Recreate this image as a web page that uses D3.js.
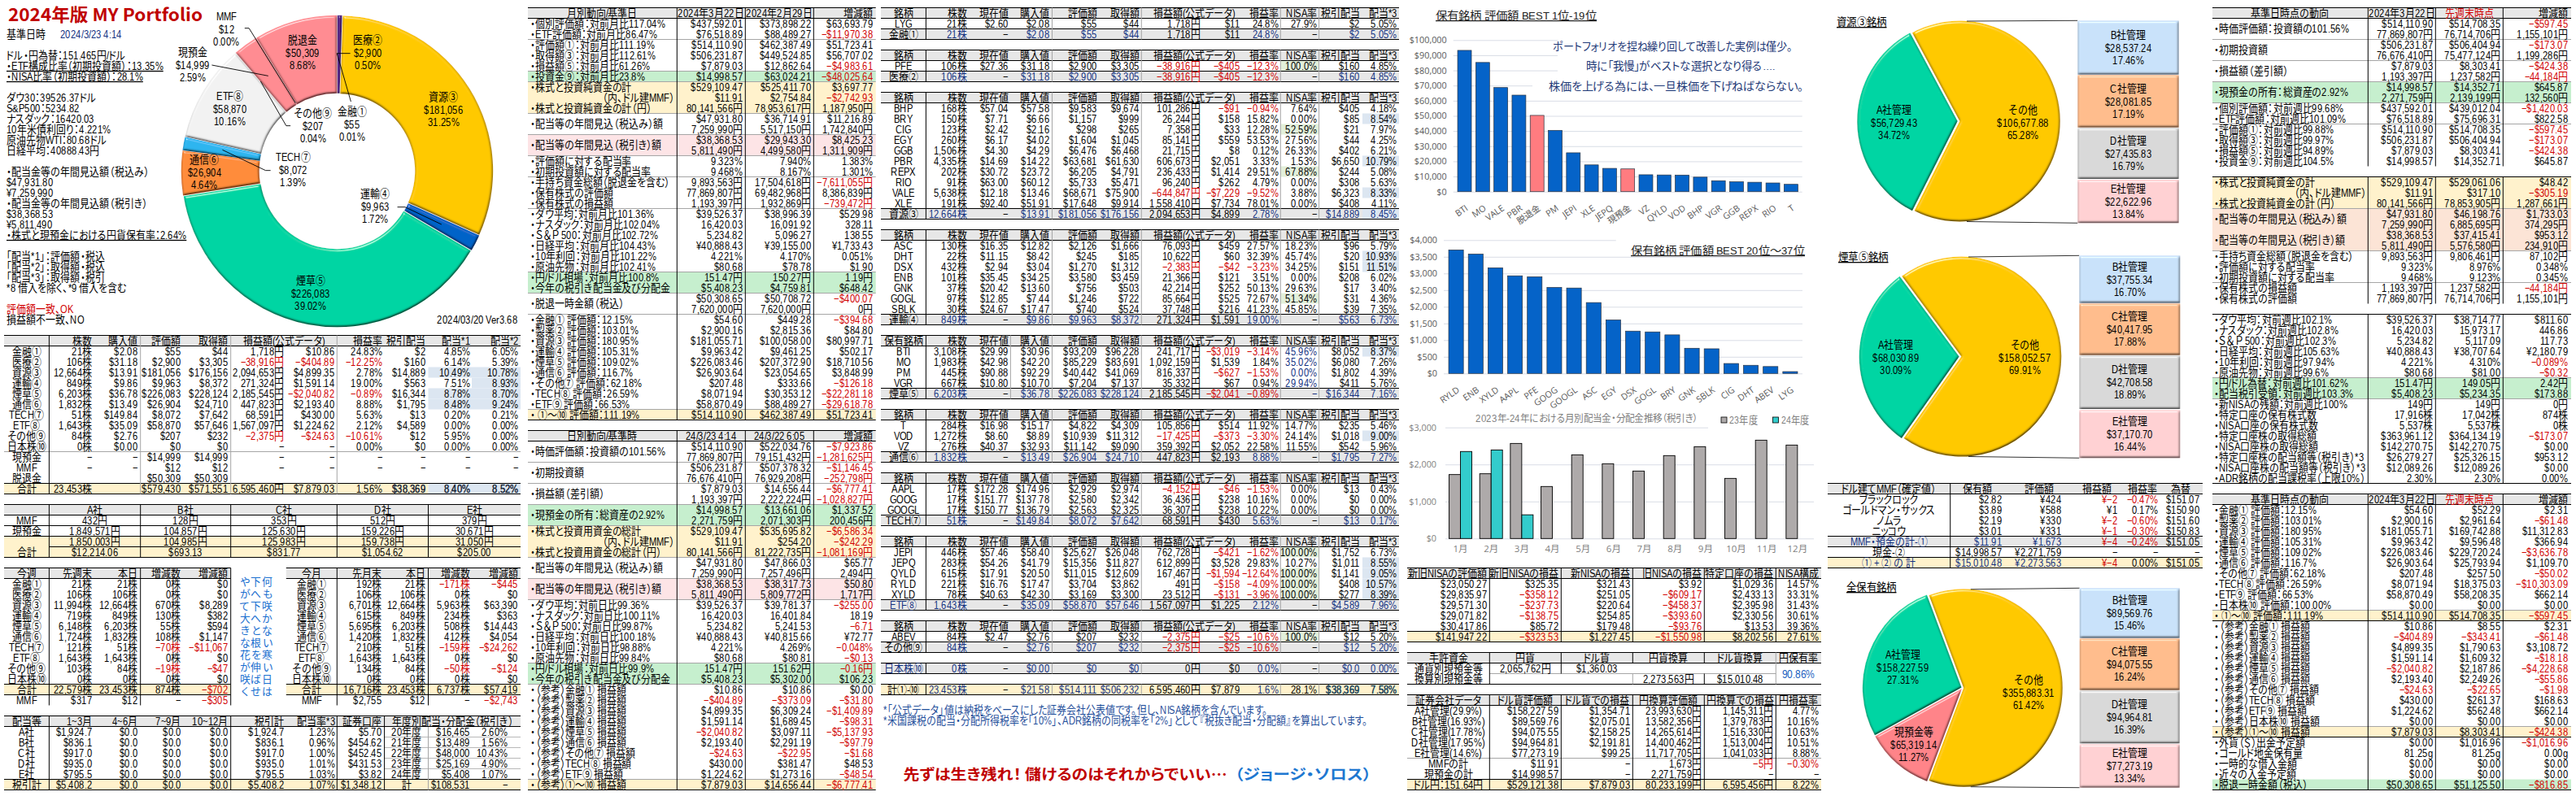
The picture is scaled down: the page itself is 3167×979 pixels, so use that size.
<!DOCTYPE html>
<html lang="ja"><head><meta charset="utf-8">
<script src="https://cdn.jsdelivr.net/npm/d3@7"></script>
<style>
@font-face{font-family:LA;src:local("Liberation Sans"),local("LiberationSans");}
@font-face{font-family:CJ;src:local("Noto Sans CJK JP"),local("Noto Sans CJK JP Regular"),local("NotoSansCJKjp-Regular");size-adjust:107%;}
html,body{margin:0;padding:0;background:#fff;}
svg{display:block;}
text{font-family:LA,CJ,"Liberation Sans","Noto Sans CJK JP",sans-serif;font-feature-settings:"palt";white-space:pre;}
.b{font-family:"Noto Sans CJK JP",sans-serif;font-weight:700;}
.a{font-family:"Open Sans","Noto Sans CJK JP",sans-serif;}
</style></head><body>
<svg id="c" width="3167" height="979" viewBox="0 0 3167 979"></svg>
<script>
// ===== DATA =====
const donutNames=["金融①","医療②","資源③","運輸④","煙草⑤","通信⑥","TECH⑦","ETF⑧","その他⑨","現預金","MMF","脱退金"];
const donutValues=[55,2900,181056,9963,226083,26904,8072,58870,207,14999,12,50309];
const donutPcts=["0.01%","0.50%","31.25%","1.72%","39.02%","4.64%","1.39%","10.16%","0.04%","2.59%","0.00%","8.68%"];

const infoLines=["ドル・円為替：151.465円/ドル","・ETF構成比率（初期投資額）：13.35%","・NISA比率（初期投資額）：28.1%"];
const marketLines=["ダウ30：39526.37ドル","S&P500：5234.82","ナスダック：16420.03","10年米債利回り：4.221%","原油先物WTI：80.68ドル","日経平均：40888.43円"];
const divLines=["・配当金等の年間見込額（税込み）","$47,931.80","¥7,259,990","・配当金等の年間見込額（税引き）","$38,368.53","¥5,811,490","・株式と現預金における円貨保有率：2.64%"];
const noteLines=["「配当*1」：評価額・税込","「配当*2」：取得額・税込","「配当*3」：取得額・税引","*8 借入を除く、*9 借入を含む"];

const sumHead=["","株数","購入値","評価額","取得額","損益額(公式データ)","損益率","税引配当","配当*1","配当*2"];
const sumRows=[
"金融①|21株|$2.08|$55|$44|1,718円|$10.86|24.83%|$2|4.85%|6.05%",
"医療②|106株|$31.18|$2,900|$3,305|-38,916円|-$404.89|-12.25%|$160|6.14%|5.39%",
"資源③|12,664株|$13.91|$181,056|$176,156|2,094,653円|$4,899.35|2.78%|$14,889|10.49%|10.78%",
"運輸④|849株|$9.86|$9,963|$8,372|271,324円|$1,591.14|19.00%|$563|7.51%|8.93%",
"煙草⑤|6,203株|$36.78|$226,083|$228,124|2,185,545円|-$2,040.82|-0.89%|$16,344|8.78%|8.70%",
"通信⑥|1,832株|$13.49|$26,904|$24,710|447,823円|$2,193.40|8.88%|$1,795|8.48%|9.24%",
"TECH⑦|51株|$149.84|$8,072|$7,642|68,591円|$430.00|5.63%|$13|0.20%|0.21%",
"ETF⑧|1,643株|$35.09|$58,870|$57,646|1,567,097円|$1,224.62|2.12%|$4,589|0.00%|0.00%",
"その他⑨|84株|$2.76|$207|$232|-2,375円|-$24.63|-10.61%|$12|5.95%|0.00%",
"日本株⑩|0株|$0.00|$0|$0|-|-|0.00%|$0|0.00%|0.00%",
"現預金|-|-|$14,999|$14,999|-|-|-|-|-|-",
"MMF|-|-|$12|$12|-|-|-|-|-|-",
"脱退金|||$50,309|$50,309||||||",
"合計|23,453株||$579,430|$571,551|6,595,460円|$7,879.03|1.56%|$38,369|8.40%|8.52%"];

const brokerHead=["","A社","B社","C社","D社","E社"];
const brokerRows=["MMF|432円|128円|353円|512円|379円","現預金|1,849,571円|104,857円|125,630円|159,226円|30,671円","|1,850,003円|104,985円|125,983円|159,738円|31,050円","合計|$12,214.06|$693.13|$831.77|$1,054.62|$205.00"];

const weekHead=["今週","先週末","本日","増減数","増減額"];
const weekRows=[
"金融①|21株|21株|0株|$0","医療②|106株|106株|0株|$0","資源③|11,994株|12,664株|670株|$8,289","運輸④|719株|849株|130株|$382",
"煙草⑤|6,148株|6,203株|55株|$594","通信⑥|1,724株|1,832株|108株|$1,147","TECH⑦|121株|51株|-70株|-$11,067","ETF⑧|1,643株|1,643株|0株|$0",
"その他⑨|103株|84株|-19株|-$47","日本株⑩|0株|0株|0株|$0","合計|22,579株|23,453株|874株|-$702","MMF|$317|$12|-|-$305"];
const monthHead=["今月","先月末","本日","増減数","増減額"];
const monthRows=[
"金融①|192株|21株|-171株|-$445","医療②|106株|106株|0株|$0","資源③|6,701株|12,664株|5,963株|$63,390","運輸④|615株|849株|234株|$363",
"煙草⑤|5,695株|6,203株|508株|$14,443","通信⑥|1,420株|1,832株|412株|$4,054","TECH⑦|210株|51株|-159株|-$24,262","ETF⑧|1,643株|1,643株|0株|$0",
"その他⑨|134株|84株|-50株|-$124","日本株⑩|0株|0株|0株|$0","合計|16,716株|23,453株|6,737株|$57,419","MMF|$2,755|$12|-|-$2,743"];
const poemColumns=["何も咲かない寒い日は","下へ下へと根を伸ばせ","やがて大きな花が咲く"];

const divHead=["配当等","1~3月","4~6月","7~9月","10~12月","税引計","配当率*3","証券口座"];
const divRows=[
"A社|$1,924.7|$0.0|$0.0|$0.0|$1,924.7|1.23%|$5.70","B社|$836.1|$0.0|$0.0|$0.0|$836.1|0.96%|$454.62","C社|$917.0|$0.0|$0.0|$0.0|$917.0|1.00%|$452.45",
"D社|$935.0|$0.0|$0.0|$0.0|$935.0|1.01%|$431.53","E社|$795.5|$0.0|$0.0|$0.0|$795.5|1.03%|$3.82","税引計|$5,408.2|$0.0|$0.0|$0.0|$5,408.2|1.07%|$1,348.12"];
const yearDivTitle="年度別配当・分配金（税引き）";
const yearDivRows=["20年度|$16,465|2.60%","21年度|$13,489|1.56%","22年度|$48,000|10.43%","23年度|$25,169|4.90%","24年度|$5,408|1.07%","計|$108,531|-"];

const monthlyHead=["月別動向/基準日","2024年3月22日","2024年2月29日","増減額"];
const monthlyRows=[
"・個別評価額：対前月比117.04%|$437,592.01|$373,898.22|$63,693.79","・ETF評価額：対前月比86.47%|$76,518.89|$88,489.27|-$11,970.38",
"・評価額①：対前月比111.19%|$514,110.90|$462,387.49|$51,723.41","・取得額③：対前月比112.61%|$506,231.87|$449,524.85|$56,707.02",
"・損益額⑤：対前月比61.26%|$7,879.03|$12,862.64|-$4,983.61","・投資金⑨：対前月比23.8%|$14,998.57|$63,024.21|-$48,025.64",
"・株式と投資純資金の計|$529,109.47|$525,411.70|$3,697.77","（内、ドル建MMF）|$11.91|$2,754.84|-$2,742.93","・株式と投資純資金の計（円）|80,141,566円|78,953,617円|1,187,950円",
"・配当等の年間見込（税込み）額|$47,931.80|$36,714.91|$11,216.89","|7,259,990円|5,517,150円|1,742,840円",
"・配当等の年間見込（税引き）額|$38,368.53|$29,943.30|$8,425.23","|5,811,490円|4,499,580円|1,311,909円",
"・評価額に対する配当率|9.323%|7.940%|1.383%","・初期投資額に対する配当率|9.468%|8.167%|1.301%",
"・手持ち資金総額（脱退金を含む）|9,893,563円|17,504,618円|-7,611,055円","・保有株式の評価額|77,869,807円|69,482,968円|8,386,839円","・保有株式の損益額|1,193,397円|1,932,869円|-739,472円",
"・ダウ平均：対前月比101.36%|$39,526.37|$38,996.39|$529.98","・ナスダック：対前月比102.04%|16,420.03|16,091.92|328.11","・Ｓ＆Ｐ 500：対前月比102.72%|5,234.82|5,096.27|138.55",
"・日経平均：対前月比104.43%|¥40,888.43|¥39,155.00|¥1,733.43","・10年利回：対前月比101.22%|4.221%|4.170%|0.051%","・原油先物：対前月比102.41%|$80.68|$78.78|$1.90",
"・円/ドル相場：対前月比100.8%|151.47円|150.27円|1.19円","・今年の税引き配当金及び分配金|$5,408.23|$4,759.81|$648.42",
"・脱退一時金額（税込）|$50,308.65|$50,708.72|-$400.07","|7,620,000円|7,620,000円|0円",
"・金融① 評価額：12.15%|$54.60|$449.28|-$394.68","・製薬② 評価額：103.01%|$2,900.16|$2,815.36|$84.80","・資源③ 評価額：180.95%|$181,055.71|$100,058.00|$80,997.71",
"・運輸④ 評価額：105.31%|$9,963.42|$9,461.25|$502.17","・煙草⑤ 評価額：109.02%|$226,083.46|$207,372.90|$18,710.56","・通信⑥ 評価額：116.7%|$26,903.64|$23,054.65|$3,848.99",
"・その他⑦ 評価額：62.18%|$207.48|$333.66|-$126.18","・TECH⑧ 評価額：26.59%|$8,071.94|$30,353.12|-$22,281.18","・ETF⑨ 評価額：66.53%|$58,870.49|$88,489.27|-$29,618.78",
"・ ①～⑩ 評価額：111.19%|$514,110.90|$462,387.49|$51,723.41"];

const dailyHead=["日別動向/基準時","24/3/23 4:14","24/3/22 6:05","増減額"];
const dailyRows=[
"・時価評価額：投資額の101.56%|$514,110.90|$522,034.76|-$7,923.86","|77,869,807円|79,151,432円|-1,281,625円",
"・初期投資額|$506,231.87|$507,378.32|-$1,146.45","|76,676,410円|76,929,208円|-252,798円",
"・損益額（差引額）|$7,879.03|$14,656.44|-$6,777.41","|1,193,397円|2,222,224円|-1,028,827円",
"・現預金の所有：総資産の2.92%|$14,998.57|$13,661.06|$1,337.52","|2,271,759円|2,071,303円|200,456円",
"・株式と投資用資金の総計|$529,109.47|$535,695.82|-$6,586.34","（内、ドル建MMF）|$11.91|$254.20|-$242.29","・株式と投資用資金の総計（円）|80,141,566円|81,222,735円|-1,081,169円",
"・配当等の年間見込（税込み）額|$47,931.80|$47,866.03|$65.77","|7,259,990円|7,257,496円|2,494円",
"・配当等の年間見込（税引き）額|$38,368.53|$38,317.73|$50.80","|5,811,490円|5,809,772円|1,717円",
"・ダウ平均：対前日比99.36%|$39,526.37|$39,781.37|-$255.00","・ナスダック：対前日比100.11%|16,420.03|16,401.84|18.19","・Ｓ＆Ｐ 500：対前日比99.87%|5,234.82|5,241.53|-6.71",
"・日経平均：対前日比100.18%|¥40,888.43|¥40,815.66|¥72.77","・10年利回：対前日比98.88%|4.221%|4.269%|-0.048%","・原油先物：対前日比99.84%|$80.68|$80.81|-$0.13",
"・円/ドル相場：対前日比99.9%|151.47円|151.62円|-0.16円","・今年の税引き配当金及び分配金|$5,408.23|$5,302.00|$106.23",
"・（参考）金融① 損益額|$10.86|$10.86|$0.00","・（参考）製薬② 損益額|-$404.89|-$373.09|-$31.80","・（参考）資源③ 損益額|$4,899.35|$6,309.24|-$1,409.89",
"・（参考）運輸④ 損益額|$1,591.14|$1,689.45|-$98.31","・（参考）煙草⑤ 損益額|-$2,040.82|$3,097.11|-$5,137.93","・（参考）通信⑥ 損益額|$2,193.40|$2,291.19|-$97.79",
"・（参考）その他⑦ 損益額|-$24.63|-$22.95|-$1.68","・（参考）TECH⑧ 損益額|$430.00|$381.47|$48.53","・（参考）ETF⑨ 損益額|$1,224.62|$1,273.16|-$48.54",
"・（参考）①～⑩ 損益額|$7,879.03|$14,656.44|-$6,777.41"];

const stockHead=["銘柄","株数","現在値","購入値","評価額","取得額","損益額(公式データ)","損益率","NISA率","税引配当","配当*3"];
const stFinance=["LYG|21株|$2.60|$2.08|$55|$44|1,718円|$11|24.8%|27.9%|$2|5.05%","金融①|21株|-|$2.08|$55|$44|1,718円|$11|24.8%|-|$2|5.05%"];
const stHealth=["PFE|106株|$27.36|$31.18|$2,900|$3,305|-38,916円|-$405|-12.3%|100.0%|$160|4.85%","医療②|106株|-|$31.18|$2,900|$3,305|-38,916円|-$405|-12.3%|-|$160|4.85%"];
const stResource=[
"BHP|168株|$57.04|$57.58|$9,583|$9,674|101,286円|-$91|-0.94%|7.64%|$405|4.18%","BRY|150株|$7.71|$6.66|$1,157|$999|26,244円|$158|15.82%|0.00%|$85|8.54%",
"CIG|123株|$2.42|$2.16|$298|$265|7,358円|$33|12.28%|52.59%|$21|7.97%","EGY|260株|$6.17|$4.02|$1,604|$1,045|85,141円|$559|53.53%|27.56%|$44|4.25%",
"GGB|1,506株|$4.30|$4.29|$6,476|$6,468|21,715円|$8|0.12%|26.33%|$402|6.21%","PBR|4,335株|$14.69|$14.22|$63,681|$61,630|606,673円|$2,051|3.33%|1.53%|$6,650|10.79%",
"REPX|202株|$30.72|$23.72|$6,205|$4,791|236,433円|$1,414|29.51%|67.88%|$244|5.08%","RIO|91株|$63.00|$60.12|$5,733|$5,471|96,240円|$262|4.79%|0.00%|$308|5.63%",
"VALE|5,638株|$12.18|$13.46|$68,671|$75,900|-644,847円|-$7,229|-9.52%|3.88%|$6,323|8.33%","XLE|191株|$92.40|$51.91|$17,648|$9,914|1,558,410円|$7,734|78.01%|0.00%|$408|4.11%",
"資源③|12,664株|-|$13.91|$181,056|$176,156|2,094,653円|$4,899|2.78%|-|$14,889|8.45%"];
const stTransport=[
"ASC|130株|$16.35|$12.82|$2,126|$1,666|76,093円|$459|27.57%|18.23%|$96|5.79%","DHT|22株|$11.15|$8.42|$245|$185|10,622円|$60|32.39%|45.74%|$20|10.93%",
"DSX|432株|$2.94|$3.04|$1,270|$1,312|-2,383円|-$42|-3.23%|34.25%|$151|11.51%","ENB|101株|$35.45|$34.25|$3,580|$3,459|21,366円|$121|3.51%|0.00%|$208|6.02%",
"GNK|37株|$20.42|$13.60|$756|$503|42,214円|$252|50.13%|29.63%|$17|3.40%","GOGL|97株|$12.85|$7.44|$1,246|$722|85,664円|$525|72.67%|51.34%|$31|4.36%",
"SBLK|30株|$24.67|$17.47|$740|$524|37,748円|$216|41.23%|45.85%|$39|7.35%","運輸④|849株|-|$9.86|$9,963|$8,372|271,324円|$1,591|19.00%|-|$563|6.73%"];
const stTobaccoHead=["保有銘柄","株数","現在値","購入値","評価額","取得額","損益額(公式データ)","損益率","NISA率","税引配当","配当*3"];
const stTobacco=[
"BTI|3,108株|$29.99|$30.96|$93,209|$96,228|241,717円|-$3,019|-3.14%|45.96%|$8,052|8.37%","MO|1,983株|$42.98|$42.20|$85,229|$83,691|1,092,159円|$1,539|1.84%|35.02%|$6,080|7.26%",
"PM|445株|$90.88|$92.29|$40,442|$41,069|816,337円|-$627|-1.53%|0.00%|$1,802|4.39%","VGR|667株|$10.80|$10.70|$7,204|$7,137|35,332円|$67|0.94%|29.94%|$411|5.76%",
"煙草⑤|6,203株|-|$36.78|$226,083|$228,124|2,185,545円|-$2,041|-0.89%|-|$16,344|7.16%"];
const stTelecom=[
"T|284株|$16.98|$15.17|$4,822|$4,309|105,856円|$514|11.92%|14.77%|$235|5.46%","VOD|1,272株|$8.60|$8.89|$10,939|$11,312|-17,425円|-$373|-3.30%|24.14%|$1,018|9.00%",
"VZ|276株|$40.37|$32.93|$11,142|$9,090|359,392円|$2,052|22.58%|11.55%|$542|5.96%","通信⑥|1,832株|-|$13.49|$26,904|$24,710|447,823円|$2,193|8.88%|-|$1,795|7.27%"];
const stTech=[
"AAPL|17株|$172.28|$174.96|$2,929|$2,974|-4,152円|-$46|-1.53%|0.00%|$13|0.43%","GOOG|17株|$151.77|$137.78|$2,580|$2,342|36,436円|$238|10.16%|0.00%|$0|0.00%",
"GOOGL|17株|$150.77|$136.79|$2,563|$2,325|36,307円|$238|10.22%|0.00%|$0|0.00%","TECH⑦|51株|-|$149.84|$8,072|$7,642|68,591円|$430|5.63%|-|$13|0.17%"];
const stEtf=[
"JEPI|446株|$57.46|$58.40|$25,627|$26,048|762,728円|-$421|-1.62%|100.00%|$1,752|6.73%","JEPQ|283株|$54.26|$41.79|$15,356|$11,827|612,899円|$3,528|29.83%|10.27%|$1,011|8.55%",
"QYLD|615株|$17.91|$20.50|$11,015|$12,609|167,467円|-$1,594|-12.64%|100.00%|$1,141|9.05%","RYLD|221株|$16.76|$17.47|$3,704|$3,862|491円|-$158|-4.09%|100.00%|$408|10.57%",
"XYLD|78株|$40.63|$42.30|$3,169|$3,300|23,512円|-$131|-3.96%|100.00%|$277|8.39%","ETF⑧|1,643株|-|$35.09|$58,870|$57,646|1,567,097円|$1,225|2.12%|-|$4,589|7.96%"];
const stOther=["ABEV|84株|$2.47|$2.76|$207|$232|-2,375円|-$25|-10.6%|100.0%|$12|5.20%","その他⑨|84株|-|$2.76|$207|$232|-2,375円|-$25|-10.6%|-|$12|5.20%"];
const stJapan=["日本株⑩|0株|-|$0.00|$0|$0|0円|$0|0.0%|-|$0.0|0.00%"];
const stTotal=["計①-⑩|23,453株|-|$21.58|$514,111|$506,232|6,595,460円|$7,879|1.6%|28.1%|$38,369|7.58%"];
const footnotes=["*「公式データ」値は納税をベースにした証券会社公表値です。但し、NISA銘柄を含んでいます。","*米国課税の配当・分配所得税率を「10%」、ADR銘柄の同税率を「2%」として『税抜き配当・分配額』を算出しています。"];
const quoteRed="先ずは生き残れ！ 儲けるのはそれからでいい…";
const quoteBlue="（ジョージ・ソロス）";

const bar1Title="保有銘柄 評価額 BEST 1位-19位";
const bar1Names=["BTI","MO","VALE","PBR","脱退金","PM","JEPI","XLE","JEPQ","現預金","VZ","QYLD","VOD","BHP","VGR","GGB","REPX","RIO","T"];
const bar1Values=[93209,85229,68671,63681,50309,40442,25627,17648,15356,14999,11142,11015,10939,9583,7204,6476,6205,5733,4822];
const bar1Ticks=[0,10000,20000,30000,40000,50000,60000,70000,80000,90000,100000];
const bar1Pink=["脱退金","現預金"];
const bar1Notes=["ポートフォリオを捏ね繰り回して改善した実例は僅少。","時に「我慢」がベストな選択となり得る….","株価を上げる為には、一旦株価を下げねばならない。"];
const bar2Title="保有銘柄 評価額 BEST 20位～37位";
const bar2Names=["RYLD","ENB","XYLD","AAPL","PFE","GOOG","GOOGL","ASC","EGY","DSX","GOGL","BRY","GNK","SBLK","CIG","DHT","ABEV","LYG"];
const bar2Values=[3704,3580,3169,2929,2900,2580,2563,2126,1604,1270,1246,1157,756,740,298,245,207,55];
const bar2Ticks=[0,500,1000,1500,2000,2500,3000,3500,4000];

const bar3Title="2023年-24年における月別配当金・分配金推移（税引き）";
const months=["1月","2月","3月","4月","5月","6月","7月","8月","9月","10月","11月","12月"];
const series23=[1727,1749,2568,1405,2260,2019,1822,2239,2480,1624,2656,2524];
const series24=[2350,2392,640,null,null,null,null,null,null,null,null,null];
const bar3Ticks=[0,1000,2000,3000];
const seriesNames=["23年度","24年度"];

const nisaHead=["新旧NISAの評価額","新旧NISAの損益","新NISAの損益","旧NISAの損益","特定口座の損益","NISA構成"];
const nisaRows=["$23,050.27|$325.35|$321.43|$3.92|$1,029.36|14.57%","$29,835.97|-$358.12|$251.05|-$609.17|$2,433.13|33.31%","$29,571.30|-$237.73|$220.64|-$458.37|$2,395.98|31.43%","$29,071.82|-$138.75|$254.85|-$393.60|$2,330.56|30.61%","$30,417.86|$85.72|$179.48|-$93.76|$13.53|39.36%","$141,947.22|-$323.53|$1,227.45|-$1,550.98|$8,202.56|27.61%"];
const cashHead=["手許資金","円貨","ドル貨","円貨換算","ドル貨換算","円保有率"];
const cashRows=["通貨別現預金等|2,065,762円|$1,360.03|||","換算別現預金等|||2,273,563円|$15,010.48|"];
const cashRate="90.86%";
const secHead=["証券会社データ","ドル貨評価額","ドル貨での損益","円換算評価額","円換算での損益","円損益率"];
const secRows=["A社管理(29.9%)|$158,227.59|$1,354.71|23,993,630円|1,145,311円|4.77%","B社管理(16.93%)|$89,569.76|$2,075.01|13,582,356円|1,379,783円|10.16%","C社管理(17.78%)|$94,075.55|$2,158.25|14,265,614円|1,516,330円|10.63%","D社管理(17.95%)|$94,964.81|$2,191.81|14,400,462円|1,513,004円|10.51%","E社管理(14.6%)|$77,273.19|$99.25|11,717,705円|1,041,033円|8.88%","MMFの計|$11.91|-|1,673円|-5円|-0.30%","現預金の計|$14,998.57|-|2,271,759円|-|-","ドル円：151.64円|$529,121.38|$7,879.03|80,233,199円|6,595,456円|8.22%"];

const mmfHead=["ドル建てMMF（確定値）","保有額","評価額","損益額","損益率","為替"];
const mmfRows=["ブラックロック|$2.82|¥424|¥-2|-0.47%|$151.07","ゴールドマン・サックス|$3.89|¥588|¥1|0.17%|$150.90","ノムラ|$2.19|¥330|¥-2|-0.60%|$151.60","ニッコウ|$3.01|¥331|¥-1|-0.30%|$150.83","MMF・預金の計-①|$11.91|¥1,673|¥-4|-0.24%|$151.05","現金-②|$14,998.57|¥2,271,759|-|-|-","① + ② の 計|$15,010.48|¥2,273,563|¥-4|0.00%|$151.05"];

const pie1Title="資源③銘柄";
const pie1Main=[["その他",106677.88,"$106,677.88","65.28%"],["A社管理",56729.43,"$56,729.43","34.72%"]];
const pie1Boxes=[["B社管理","$28,537.24","17.46%"],["C社管理","$28,081.85","17.19%"],["D社管理","$27,435.83","16.79%"],["E社管理","$22,622.96","13.84%"]];
const pie2Title="煙草⑤銘柄";
const pie2Main=[["その他",158052.57,"$158,052.57","69.91%"],["A社管理",68030.89,"$68,030.89","30.09%"]];
const pie2Boxes=[["B社管理","$37,755.34","16.70%"],["C社管理","$40,417.95","17.88%"],["D社管理","$42,708.58","18.89%"],["E社管理","$37,170.70","16.44%"]];
const pie3Title="全保有銘柄";
const pie3Main=[["その他",355883.31,"$355,883.31","61.42%"],["現預金等",65319.14,"$65,319.14","11.27%"],["A社管理",158227.59,"$158,227.59","27.31%"]];
const pie3Boxes=[["B社管理","$89,569.76","15.46%"],["C社管理","$94,075.55","16.24%"],["D社管理","$94,964.81","16.39%"],["E社管理","$77,273.19","13.34%"]];

const weekA_Head=["基準日時点の動向","2024年3月22日","先週末時点","増減額"];
const weekA=[
"・時価評価額：投資額の101.56%|$514,110.90|$514,708.35|-$597.45","|77,869,807円|76,714,706円|1,155,101円","・初期投資額|$506,231.87|$506,404.94|-$173.07","|76,676,410円|75,477,124円|1,199,286円",
"・損益額（差引額）|$7,879.03|$8,303.41|-$424.38","|1,193,397円|1,237,582円|-44,184円","・現預金の所有：総資産の2.92%|$14,998.57|$14,352.71|$645.87","|2,271,759円|2,139,199円|132,560円",
"・個別評価額：対前週比99.68%|$437,592.01|$439,012.04|-$1,420.03","・ETF評価額：対前週比101.09%|$76,518.89|$75,696.31|$822.58","・評価額①：対前週比99.88%|$514,110.90|$514,708.35|-$597.45",
"・取得額③：対前週比99.97%|$506,231.87|$506,404.94|-$173.07","・損益額⑤：対前週比94.89%|$7,879.03|$8,303.41|-$424.38","・投資金⑨：対前週比104.5%|$14,998.57|$14,352.71|$645.87"];
const weekB=[
"・株式と投資純資金の計|$529,109.47|$529,061.06|$48.42","（内、ドル建MMF）|$11.91|$317.10|-$305.19","・株式と投資純資金の計（円）|80,141,566円|78,853,905円|1,287,661円",
"・配当等の年間見込（税込み）額|$47,931.80|$46,198.76|$1,733.03","|7,259,990円|6,885,695円|374,295円","・配当等の年間見込（税引き）額|$38,368.53|$37,415.41|$953.12","|5,811,490円|5,576,580円|234,910円",
"・手持ち資金総額（脱退金を含む）|9,893,563円|9,806,461円|87,102円","・評価額に対する配当率|9.323%|8.976%|0.348%","・初期投資額に対する配当率|9.468%|9.123%|0.345%","・保有株式の損益額|1,193,397円|1,237,582円|-44,184円","・保有株式の評価額|77,869,807円|76,714,706円|1,155,101円"];
const weekC=[
"・ダウ平均：対前週比102.1%|$39,526.37|$38,714.77|$811.60","・ナスダック：対前週比102.8%|16,420.03|15,973.17|446.86","・Ｓ＆Ｐ 500：対前週比102.3%|5,234.82|5,117.09|117.73","・日経平均：対前週比105.63%|¥40,888.43|¥38,707.64|¥2,180.79",
"・10年利回：対前週比97.94%|4.221%|4.310%|-0.089%","・原油先物：対前週比99.6%|$80.68|$81.00|-$0.32","・円/ドル為替：対前週比101.62%|151.47円|149.05円|2.42円","・配当税引受領：対前週比103.3%|$5,408.23|$5,234.35|$173.88",
"・新NISAの残額：対前週比100%|149円|149円|0円","・特定口座の保有株式数|17,916株|17,042株|874株","・NISA口座の保有株式数|5,537株|5,537株|0株","・特定口座株の取得総額|$363,961.12|$364,134.19|-$173.07","・NISA口座株の取得総額|$142,270.75|$142,270.75|$0.00",
"・特定口座株の配当額等（税引き）*3|$26,279.27|$25,326.15|$953.12","・NISA口座株の配当額等（税引き）*3|$12,089.26|$12,089.26|$0.00","・ADR銘柄の配当課税率（上限10%）|2.30%|2.30%|0.00%"];
const weekD=[
"・金融① 評価額：12.15%|$54.60|$52.29|$2.31","・製薬② 評価額：103.01%|$2,900.16|$2,961.64|-$61.48","・資源③ 評価額：180.95%|$181,055.71|$169,742.88|$11,312.83","・運輸④ 評価額：105.31%|$9,963.42|$9,596.48|$366.94",
"・煙草⑤ 評価額：109.02%|$226,083.46|$229,720.24|-$3,636.78","・通信⑥ 評価額：116.7%|$26,903.64|$25,793.94|$1,109.70","・その他⑦ 評価額：62.18%|$207.48|$257.50|-$50.02","・TECH⑧ 評価額：26.59%|$8,071.94|$18,375.03|-$10,303.09",
"・ETF⑨ 評価額：66.53%|$58,870.49|$58,208.35|$662.14","・日本株⑩ 評価額：100.00%|$0.00|$0.00|$0.00","・ ①～⑩ 評価額：111.19%|$514,110.90|$514,708.35|-$597.45",
"・（参考）金融① 損益額|$10.86|$8.55|$2.31","・（参考）製薬② 損益額|-$404.89|-$343.41|-$61.48","・（参考）資源③ 損益額|$4,899.35|$1,790.63|$3,108.72","・（参考）運輸④ 損益額|$1,591.14|$1,609.32|-$18.18",
"・（参考）煙草⑤ 損益額|-$2,040.82|$2,187.86|-$4,228.68","・（参考）通信⑥ 損益額|$2,193.40|$2,249.26|-$55.86","・（参考）その他⑦ 損益額|-$24.63|-$22.65|-$1.98","・（参考）TECH⑧ 損益額|$430.00|$261.37|$168.63",
"・（参考）ETF⑨ 損益額|$1,224.62|$562.48|$662.14","・（参考）日本株⑩ 損益額|$0.00|$0.00|$0.00","・（参考）①～⑩ 損益額|$7,879.03|$8,303.41|-$424.38",
"・外貨（＄）出金予定額|$0.00|$1,016.96|-$1,016.96","・ゴールド地金保有量|81.25g|81.25g|0.00g","・一時的な借入金額|$0.00|$0.00|$0.00","・近々の入金予定額|$0.00|$0.00|$0.00","・脱退一時金額（税込）|$50,308.65|$51,125.50|-$816.85"];

// ===== DRAWING =====
const svg=d3.select('#c');
const bgL=svg.append('g'), lnL=svg.append('g'), chL=svg.append('g'), txL=svg.append('g');
const R=r=>9.5+13*r;
const RED='#d00000',NAVY='#12307f',GREY='#e7e7e7',YEL='#fff2cc',GRN='#c6efce',PINK='#fde4e6',PEACH='#fce4d6',LBLUE='#dce6f1',LGRN='#e2efda',MID='#a6a6a6';
const anc={e:'end',m:'middle',s:'start'};
function T(x,y,s,o={}){
  const g=o.layer||txL;
  const el=g.append('text').attr('transform',`translate(${x},${y}) scale(${o.sx??0.86},1)`)
    .attr('text-anchor',anc[o.a||'s']).attr('font-size',o.fs||13).attr('fill',o.c||'#000').text(s);
  if(o.w)el.attr('font-weight',o.w);
  if(o.u)el.style('text-decoration','underline');
  if(o.cl)el.attr('class',o.cl);
  if(o.len)el.attr('textLength',o.len).attr('lengthAdjust','spacingAndGlyphs');
  return el;
}
const fill=(x0,x1,r,n,c)=>bgL.append('rect').attr('x',x0).attr('y',R(r)).attr('width',x1-x0).attr('height',13*n).attr('fill',c);
const hl=(x0,x1,r,c='#000',w=1.2)=>lnL.append('line').attr('x1',x0).attr('x2',x1).attr('y1',R(r)).attr('y2',R(r)).attr('stroke',c).attr('stroke-width',w);
const vl=(x,r0,r1,c='#000',w=1)=>lnL.append('line').attr('x1',x).attr('x2',x).attr('y1',R(r0)).attr('y2',R(r1)).attr('stroke',c).attr('stroke-width',w);
const neg=c=>/^(-|¥-)[\d$¥]/.test(c);
const fmt=c=>c.replace(/^-/,'−').replace(/^¥-/,'¥−');
const BASE=11.3;
function head(r,x0,x1,cells,xs,an,o={}){
  fill(x0,x1,r,1,GREY);hl(x0,x1,r);hl(x0,x1,r+1);
  cells.forEach((c,j)=>{if(c)T(xs[j],R(r)+BASE,c,{a:an[j],c:(o.red===j)?RED:'#000'});});
}
function body(r0,data,xs,an,o={}){
  data.forEach((row,i)=>row.split('|').forEach((c,j)=>{
    if(!c)return;
    let y=R(r0+i)+BASE,x=xs[j],a=an[j];
    if(j===0&&o.span&&o.span.includes(i))y+=6.5;
    if(j===0&&o.inset&&o.inset.includes(i)){x=o.insetX;a='e';}
    const col=((j>0||o.allNum)&&neg(c))?RED:(o.color?o.color(i,j,c):'#000');
    if(o.cellFill){const f=o.cellFill(i,j,c);if(f)fill(f[0],f[1],r0+i,1,f[2]);}
    T(x,y,(j>0||o.allNum)?fmt(c):c,{a,c:col,w:o.bold?o.bold(i,j):null});
  }));
}

// ---- left text panel
T(10,26,"2024年版 MY Portfolio",{sx:1,fs:21.5,c:'#c00000',cl:'b',len:239,w:700});
T(8,R(2)+BASE,"基準日時");T(74,R(2)+BASE,"2024/3/23 4:14",{c:NAVY});
infoLines.forEach((s,i)=>T(8,R(4+i)+BASE,s,{u:i>0}));
marketLines.forEach((s,i)=>T(8,R(8+i)+BASE,s));
divLines.forEach((s,i)=>T(8,R(15+i)+BASE,s,{u:i===6}));
noteLines.forEach((s,i)=>T(8,R(23+i)+BASE,s));
T(8,R(28)+BASE,"評価額一致、OK",{c:RED});T(8,R(29)+BASE,"損益額不一致、NO");
T(636,R(29)+BASE,"2024/03/20 Ver3.68",{a:'e'});

// ---- bevel filter
const defs=svg.append('defs');
const f=defs.append('filter').attr('id','bevel').attr('x','-5%').attr('y','-5%').attr('width','110%').attr('height','110%');
f.append('feGaussianBlur').attr('in','SourceAlpha').attr('stdDeviation',1.4).attr('result','b');
f.append('feDiffuseLighting').attr('in','b').attr('surfaceScale',3).attr('diffuseConstant',1.155).attr('lighting-color','#fff').attr('result','d')
  .append('feDistantLight').attr('azimuth',250).attr('elevation',60);
f.append('feComposite').attr('in','d').attr('in2','SourceAlpha').attr('operator','in').attr('result','d2');
f.append('feBlend').attr('in','SourceGraphic').attr('in2','d2').attr('mode','multiply').attr('result','m');
f.append('feSpecularLighting').attr('in','b').attr('surfaceScale',3).attr('specularConstant',.5).attr('specularExponent',40).attr('lighting-color','#fff').attr('result','s')
  .append('feDistantLight').attr('azimuth',250).attr('elevation',30);
f.append('feComposite').attr('in','s').attr('in2','SourceAlpha').attr('operator','in').attr('result','s2');
f.append('feComposite').attr('in','m').attr('in2','s2').attr('operator','arithmetic').attr('k1',0).attr('k2',1).attr('k3',1).attr('k4',0);

// ---- donut
const donutColors=["#a6a6a6","#5b2a8c","#ffc906","#0563c8","#05d5a3","#ff8c3a","#2db5ef","#f2f2f2","#d0d0d0","#ff8c92","#bbbbbb","#ff8c92"];
const pieD=d3.pie().sort(null)(donutValues);
const arcD=d3.arc().innerRadius(95).outerRadius(191);
const gD=chL.append('g').attr('transform','translate(414.5,210.5)');
gD.selectAll('path').data(pieD).join('path').attr('d',arcD).attr('fill',(d,i)=>donutColors[i]).attr('filter','url(#bevel)')
  .attr('transform',d=>{const a=(d.startAngle+d.endAngle)/2;return `translate(${Math.sin(a)*.8},${-Math.cos(a)*.8})`;});
const donutLabelPos=[[432.7,137.7],[452.2,49.7],[545.3,119.3],[461.2,238.7],[381.6,345.7],[251.4,196.7],[360.4,193.7],[282.4,118.7],[384.9,139.7],[236.7,64.7],[278.4,20.7],[372.2,49.7]];
donutNames.forEach((n,i)=>{
  const [x,y]=donutLabelPos[i];
  T(x,y+4.5,n,{a:'m'});
  T(x,y+20.5,"$"+d3.format(",")(donutValues[i]),{a:'m'});
  T(x,y+35.5,donutPcts[i],{a:'m'});
});
const z2=p=>p.map(([a,b])=>[a/2.45,b/3]);
[[[737,104],[750,104],[890,380]],[[638,240],[808,280]],[[875,464],[862,464],[785,300]],[[1015,197],[1057,375]],[[1055,197],[1015,197]],[[815,629],[800,629],[670,553]],[[1197,764],[1220,764],[1330,828]]]
 .forEach(p=>chL.append('path').attr('d',d3.line()(z2(p))).attr('fill','none').attr('stroke','#000').attr('stroke-width',.9));

// ---- left tables
head(31,5,640,sumHead,[32.6,113,169,222.4,280.4,349,470.2,523.3,578.4,637.6],['m','e','e','e','e','m','e','e','e','e']);
const sumXs=[32.6,113,169,222.4,280.4,349,411.4,470.2,523.3,578.4,637.6],sumAn=['m','e','e','e','e','e','e','e','e','e','e'];
fill(5,526.5,45,1,YEL);
body(32,sumRows,sumXs,sumAn,{cellFill:(i,j,c)=>{if(j>=9&&parseFloat(c)>=8)return j===9?[526.5,580,LBLUE]:[580,640,LBLUE];return null;},bold:(i,j)=>(i===13&&j>=8)?700:null,color:(i,j)=>(i===13&&j>=8)?'#1d2b3a':'#000'});
hl(5,640,42,MID);hl(5,640,45);hl(5,640,46);
vl(60.4,31,46);[172.7,283.7,414.3].forEach(x=>vl(x,31,46,MID));

const bX=[32.6,116.5,228,349,470.4,583.2];
head(47,5,640,brokerHead,bX,'mmmmmm'.split(''));
fill(5,640,50,2,YEL);
body(48,brokerRows,bX,'mmmmmm'.split(''),{span:[2]});
hl(5,640,49);hl(5,640,50);hl(60.4,640,51);hl(5,640,52);
[60.4,172.7,283.7,414.3,526.5].forEach(x=>vl(x,47,52));

const wkX=[32.6,113,169,222,280.4],wkA='meeee'.split('');
head(53,5,283.7,weekHead,wkX,wkA);body(54,weekRows,wkX,wkA);
fill(5,283.7,64,1,YEL);hl(5,283.7,64);hl(5,283.7,65);[60.4,172.7,283.7].forEach(x=>vl(x,53,66));
const mtX=[383,469.4,522.9,577.6,636.7];
head(53,351.8,640,monthHead,mtX,wkA);body(54,monthRows,mtX,wkA);
fill(351.8,640,64,1,YEL);hl(351.8,640,64);hl(351.8,640,65);[414.3,526.5].forEach(x=>vl(x,53,66));
poemColumns.forEach((s,i)=>[...s].forEach((ch,k)=>T(328.6-i*13.8,720+k*15,ch,{a:'m',sx:1,fs:12,c:'#1a6fd0'})));

const dvX=[32.6,113,169,222.4,280.4,349.4,412,469.4],dvA='meeeeeee'.split('');
head(67,5,640,divHead,dvX,dvA);body(68,divRows,dvX,dvA);
T(556.3,R(67)+BASE,yearDivTitle,{a:'m'});
const ydX=[499.5,577.6,624.5];
yearDivRows.forEach((s,i)=>{const c=s.split('|');T(ydX[0],R(68+i)+BASE,c[0],{a:'m'});T(ydX[1],R(68+i)+BASE,c[1],{a:'e'});T(ydX[2],R(68+i)+BASE,c[2]==='-'?'−':c[2],{a:'e'});if(i<4)hl(472.6,640,69+i,MID,.8);});
fill(5,640,73,1,YEL);hl(5,640,73);hl(5,640,74);[60.4,283.7,414.3,472.6].forEach(x=>vl(x,67,74));vl(526.5,67,74,MID);

// ---- monthly/daily column
const cX=[652,913,997.3,1073.3],cA='seee'.split('');
function bigHead(r,cells,red){head(r,649,1076.7,cells,[740,874,958,1073.3],'mmme'.split(''),{red});}
bigHead(0,monthlyHead);
body(1,monthlyRows,cX,cA,{span:[9,11,26],inset:[7],insetX:829});
[[6,1,GRN],[7,3,YEL],[12,2,PINK],[25,2,GRN],[38,1,YEL]].forEach(([r,n,c])=>fill(649,1076.7,r,n,c));
[3,6,7,10,12,14,16,19,25,27,29,38].forEach(r=>hl(649,1076.7,r,MID,1));hl(649,1076.7,39);
[832.3,916.3,1000.3].forEach(x=>vl(x,0,39));
bigHead(40,dailyHead);
body(41,dailyRows,cX,cA,{span:[0,2,4,6,11,13],inset:[9],insetX:829});
[[47,2,GRN],[49,3,YEL],[54,2,PINK],[62,2,GRN],[73,1,YEL]].forEach(([r,n,c])=>fill(649,1076.7,r,n,c));
[43,45,47,49,52,54,56,62,64,73].forEach(r=>hl(649,1076.7,r,MID,1));hl(649,1076.7,74);
[832.3,916.3,1000.3].forEach(x=>vl(x,40,74));

// ---- stock tables
const sX=[1110.6,1188.6,1239.6,1290.2,1348.6,1400.8,1475.9,1524,1571.8,1619.2,1671.8,1717.6],sA='meeeeeeeeeee'.split('');
const sHX=[1110.6,1188.6,1239.6,1290.2,1348.6,1400.8,1468,1571.8,1619.2,1671.8,1717.6],sHA='meeeeemeeee'.split('');
function stock(r,rows,o={}){
  const x0=1083,x1=1720;
  if(!o.noHead){head(r,x0,x1,o.head||stockHead,sHX,sHA);r++;}else{hl(x0,x1,r);}
  const last=rows.length-1;
  const blueCols=[1,3,4,5,8,10,11];
  fill(x0,x1,r+last,1,o.total?YEL:GREY);
  body(r,rows,sX,sA,{
    cellFill:(i,j,c)=>{
      if(j===9&&parseFloat(c)>=50&&!o.total)return [1574.3,1621.6,LGRN];
      if(j===11&&parseFloat(c)>=8&&!o.total)return [1675,1720,LBLUE];
      return null;},
    color:(i,j)=>{
      if(o.total){return (j===10||j===11)?'#17435a':(j===0?'#000':(blueCols.includes(j)?NAVY:'#000'));}
      if(o.nisaBlue&&j===9)return NAVY;
      if(i===last&&(blueCols.includes(j)||(j===0&&o.blueName)))return NAVY;
      return '#000';},
    bold:(i,j)=>o.total&&j>=10?700:null});
  const top=o.noHead?r:r-1,bot=r+rows.length;
  hl(x0,x1,r+last);hl(x0,x1,bot);
  vl(1138.4,top,bot);[1293.5,1403.3,1574.3,1621.6].forEach(x=>vl(x,top,bot,MID));
  if(o.extraDiv)vl(o.extraDiv,top,bot,MID);
}
stock(0,stFinance);stock(4,stHealth);stock(8,stResource);stock(21,stTransport);
stock(31,stTobacco,{head:stTobaccoHead,nisaBlue:true,extraDiv:1242.4});
stock(38,stTelecom);stock(44,stTech);stock(50,stEtf,{blueName:true});stock(58,stOther);
stock(62,stJapan,{noHead:true,blueName:true});stock(64,stTotal,{noHead:true,total:true});
T(1086,877.5,footnotes[0],{c:'#1f4e9a'});T(1086,891,footnotes[1],{c:'#1f4e9a'});
T(1110.6,958.5,quoteRed,{sx:1,fs:18,c:'#c00000',cl:'b',len:398,w:700});
T(1518,958.5,quoteBlue,{sx:1,fs:18,c:'#1f78d1',cl:'b',len:168,w:700});

// ---- bar charts
function yAxis(g,y,ticks,w,pad,color,fmtf){
  g.call(d3.axisLeft(y).tickValues(ticks).tickSize(-w).tickPadding(pad).tickFormat(fmtf));
  g.select('.domain').remove();
  g.selectAll('.tick line').attr('stroke','#d9dde6').attr('stroke-width',1);
  g.selectAll('.tick text').attr('class','a').attr('font-family',null).attr('font-size',10.8).attr('fill',color);
}
const dollar=d=>"$"+d3.format(",")(d);
function barChart(names,vals,ticks,x0,x1,y0,y1,maxV,pad,masks,labelDy){
  const x=d3.scaleBand().domain(names).range([x0,x1]).padding(pad);
  const y=d3.scaleLinear().domain([0,maxV]).range([y0,y1]);
  const gy=chL.append('g').attr('transform',`translate(${x0},0)`);
  yAxis(gy,y,ticks,x1-x0,8,'#595959',dollar);
  gy.attr('font-family',null);
  masks.forEach(m=>chL.append('rect').attr('x',m[0]).attr('y',m[1]).attr('width',m[2]).attr('height',m[3]).attr('fill','#fff'));
  chL.append('g').selectAll('rect').data(names).join('rect')
    .attr('x',d=>x(d)).attr('width',x.bandwidth()).attr('y',(d,i)=>y(vals[i])).attr('height',(d,i)=>y0-y(vals[i]))
    .attr('fill',d=>bar1Pink.includes(d)?'#ff7c80':'#0563c8').attr('stroke','#2a3340').attr('stroke-width',.7);
  const gx=chL.append('g').attr('transform',`translate(0,${y0})`).call(d3.axisBottom(x).tickSize(0).tickPadding(0));
  gx.select('.domain').remove();
  gx.selectAll('.tick text').attr('class','a').attr('font-family',null).attr('font-size',10.8).attr('fill','#595959')
    .attr('text-anchor','end').attr('dy',0).attr('y',0)
    .attr('transform',`translate(5,${labelDy}) rotate(-35)`);
}
barChart(bar1Names,bar1Values,bar1Ticks,1786.7,2215.7,235.7,49.3,100000,.24,[[1915,44,310,54],[1884,98,336,14]],22);
barChart(bar2Names,bar2Values,bar2Ticks,1775,2216,459.3,295.3,4000,.25,[[1986.7,290,240,10]],22);
T(1765,24,bar1Title,{sx:1,fs:12.4,u:true,c:'#222',len:198});
T(2005,313,bar2Title,{sx:1,fs:12.4,u:true,c:'#222',len:214});
[[1909,294,61.5],[1950,232,86],[1904,312,111]].forEach((p,i)=>T(p[0],p[2],bar1Notes[i],{sx:1,fs:12.4,c:'#1f3a78',len:p[1]}));

// chart 3
{
  const x=d3.scaleBand().domain(months).range([1776.7,2228.7]).paddingInner(.256).paddingOuter(.128);
  const inner=d3.scaleBand().domain(seriesNames).range([0,x.bandwidth()]);
  const y=d3.scaleLinear().domain([0,3000]).range([662.3,525.7]);
  const gy=chL.append('g').attr('transform','translate(1777,0)');
  yAxis(gy,y,bar3Ticks,453,11,'#7f7f7f',dollar);
  chL.append('rect').attr('x',2100).attr('y',520).attr('width',135).attr('height',10).attr('fill','#fff');
  const cols=["#aeaaaa","#33cccc"];
  [series23,series24].forEach((vals,k)=>{
    chL.append('g').selectAll('rect').data(months.filter((m,i)=>vals[i]!==null)).join('rect')
      .attr('x',d=>x(d)+inner(seriesNames[k])).attr('width',inner.bandwidth())
      .attr('y',d=>y(vals[months.indexOf(d)])).attr('height',d=>662.3-y(vals[months.indexOf(d)]))
      .attr('fill',cols[k]).attr('stroke','#000').attr('stroke-width',.9);
  });
  const gx=chL.append('g').attr('transform','translate(0,662.3)').call(d3.axisBottom(x).tickSize(0).tickPadding(9));
  gx.select('.domain').remove();
  gx.selectAll('.tick text').attr('class','a').attr('font-family',null).attr('font-size',11.5).attr('fill','#7f7f7f');
  T(1814,519,bar3Title,{sx:1,fs:11.5,c:'#7f7f7f',len:273});
  [[2116,"#aeaaaa"],[2179.5,"#33cccc"]].forEach((p,i)=>{
    chL.append('rect').attr('x',p[0]).attr('y',513).attr('width',7).attr('height',7).attr('fill',p[1]).attr('stroke','#000').attr('stroke-width',.8);
    T(p[0]+10,520.5,seriesNames[i],{sx:1,fs:12,c:'#7f7f7f',len:35});
  });
}

// ---- mid tables
const mEdges=[1831.3,1919.3,2007.3,2095.3,2183.3];
const nisaX=[1828.3,1916.3,2004.3,2092.3,2180.3,2236];
head(53,1730,2239,nisaHead,nisaX,'eeeeee'.split(''));
fill(1730,2239,59,1,YEL);
body(54,nisaRows,nisaX,'eeeeee'.split(''),{allNum:true});
hl(1730,2239,59);hl(1730,2239,60);mEdges.forEach(x=>vl(x,53,60));
head(61,1730,2239,cashHead,[1780.6,1875.3,1963.3,2051.3,2139.3,2211],'mmmmmm'.split(''));
body(62,cashRows,[1780.6,1875.3,1963.3,2051.3,2139.3],'mmmmm'.split(''));
T(2211,R(62)+BASE+7,cashRate,{a:'m',c:'#1a5fc0',fs:14});
hl(1730,2239,64);hl(1831.3,2183.3,63,MID,1);
vl(1831.3,61,64);vl(1919.3,61,63);vl(2007.3,61,62);vl(2095.3,61,62);vl(2183.3,61,64,MID);vl(2007.3,63,64,MID);vl(2095.3,63,64);
head(65,1730,2239,secHead,[1780.6,1875.3,1963.3,2051.3,2139.3,2211],'mmmmmm'.split(''));
fill(1730,2239,73,1,YEL);
body(66,secRows,[1780.6,1916.3,2004.3,2092.3,2180.3,2236],'meeeee'.split(''));
hl(1730,2239,71,MID,1);hl(1730,2239,73);hl(1730,2239,74);mEdges.forEach(x=>vl(x,65,74));

// ---- MMF table
const mmX=[2322,2461.3,2534.3,2603.3,2653.3,2704.3],mmA='meeeee'.split('');
head(45,2247,2708,mmfHead,[2322,2448.7,2524.7,2595.7,2652.3,2693],mmA);
fill(2247,2708,50,1,GREY);fill(2247,2708,52,1,YEL);
body(46,mmfRows,mmX,mmA,{color:(i,j)=>(i===4&&j<=2&&j>=0)||(i===6&&j<=2)?NAVY:'#000'});
[50,51,52,53].forEach(r=>hl(2247,2708,r));vl(2397.7,45,53);

// ---- pies
const PC={"A社管理":"#05d5a3","その他":"#ffc906","現預金等":"#ff8489"};
const BC=["#c9e2fa","#ffbd8d","#d9d9d9","#ffd1d3"];
function pie(cx,cy,r,main,startDeg,labelPos,bx,boxY,title,tx,ty){
  const a0=startDeg*Math.PI/180;
  const p=d3.pie().sort(null).value(d=>d[1]).startAngle(a0).endAngle(a0+2*Math.PI)(main);
  const arc=d3.arc().innerRadius(0).outerRadius(r);
  const g=chL.append('g').attr('transform',`translate(${cx},${cy})`);
  const x0=cx+10;
  [[cy-r+.5,boxY[0][0]],[cy+r,boxY[3][1]]].forEach(([a,b])=>chL.append('line').attr('x1',x0).attr('y1',a).attr('x2',bx[0]).attr('y2',b).attr('stroke','#333').attr('stroke-width',1));
  g.selectAll('path').data(p).join('path').attr('d',arc).attr('fill',d=>PC[d.data[0]]).attr('filter','url(#bevel)')
    .attr('transform',d=>{const a=(d.startAngle+d.endAngle)/2;return `translate(${Math.sin(a)*1.3},${-Math.cos(a)*1.3})`;});
  main.forEach((m,i)=>{const [x,y]=labelPos[i];T(x,y+4.5,m[0],{a:'m'});T(x,y+20.5,m[2],{a:'m'});T(x,y+35.5,m[3],{a:'m'});});
  T(tx,ty,title,{u:true,sx:.9,c:'#000'});
}
function boxes(bx,boxY,data){
  data.forEach((d,i)=>{
    const [a,b]=boxY[i];
    chL.append('rect').attr('x',bx[0]).attr('y',a).attr('width',bx[1]-bx[0]).attr('height',b-a).attr('fill',BC[i]).attr('filter','url(#bevel)');
    const c=(bx[0]+bx[1])/2,m=(a+b)/2;
    T(c,m-11,d[0],{a:'m'});T(c,m+5,d[1],{a:'m'});T(c,m+20,d[2],{a:'m'});
  });
}
const b1=[2554.3,2678.7],y1=[[25.3,91.7],[92.3,156.7],[157.3,220],[221,274.3]];
pie(2408,149,123.5,pie1Main,-28.2,[[2487,135.7],[2328.7,135.7]],b1,y1,pie1Title,2258,32);boxes(b1,y1,pie1Boxes);
const b2=[2556.3,2680.3],y2=[[314.3,372.7],[373.3,436.7],[437.3,503],[504.3,563.3]];
pie(2410,438.5,123,pie2Main,-36.5,[[2489.3,424.5],[2330.7,424.5]],b2,y2,pie2Title,2260,321);boxes(b2,y2,pie2Boxes);
const b3=[2556.7,2679.7],y3=[[723.3,784.7],[785.3,848.7],[849.3,914.3],[915.3,968.7]];
pie(2412.8,846,121.7,pie3Main,-20.5,[[2494,836.7],[2352.7,900.7],[2339.3,805]],b3,y3,pie3Title,2270,727);boxes(b3,y3,pie3Boxes);

// ---- right column
const rX=[2721.7,2991,3074.3,3157],rA='seee'.split('');
const rE=[2720,3161],rV=[2911.3,2994.3,3077.3];
function rHead(r){head(r,rE[0],rE[1],weekA_Head,[2815,2953,3036,3157],'mmme'.split(''),{red:2});}
rHead(0);
fill(rE[0],rE[1],7,2,GRN);
body(1,weekA,rX,rA,{span:[0,2,4,6]});
[3,5,7,9,11].forEach(r=>hl(rE[0],rE[1],r,MID,1));
rV.forEach(x=>vl(x,0,15));
hl(rE[0],rE[1],16);
fill(rE[0],rE[1],16,3,YEL);fill(rE[0],rE[1],19,4,PEACH);
body(16,weekB,rX,rA,{span:[3,5],inset:[1],insetX:2909});
[19,23,26].forEach(r=>hl(rE[0],rE[1],r,MID,1));
rV.forEach(x=>vl(x,16,28));
hl(rE[0],rE[1],29);
fill(rE[0],rE[1],35,2,GRN);
body(29,weekC,rX,rA);
[35,37].forEach(r=>hl(rE[0],rE[1],r,MID,1));hl(rE[0],rE[1],45);
rV.forEach(x=>vl(x,29,45));
rHead(46);
fill(rE[0],rE[1],57,1,YEL);fill(rE[0],rE[1],68,1,YEL);fill(rE[0],rE[1],73,1,GRN);
body(47,weekD,rX,rA);
hl(rE[0],rE[1],57,MID,1);hl(rE[0],rE[1],58);hl(rE[0],rE[1],68,MID,1);hl(rE[0],rE[1],69);hl(rE[0],rE[1],74);
rV.forEach(x=>vl(x,46,74));
</script></body></html>
